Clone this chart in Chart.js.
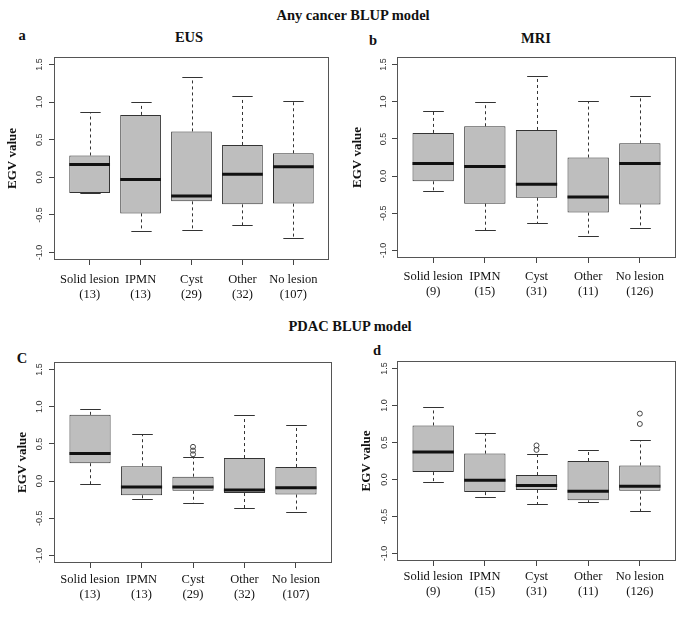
<!DOCTYPE html>
<html>
<head>
<meta charset="utf-8">
<script src="https://cdn.jsdelivr.net/npm/chart.js@4.4.1/dist/chart.umd.min.js"></script>
<style>
html,body{margin:0;padding:0;background:#fff;}
body{width:685px;height:634px;position:relative;overflow:hidden;font-family:"Liberation Serif","Times New Roman",serif;}
.t{position:absolute;font-weight:bold;line-height:1;white-space:nowrap;color:#111;font-size:14.5px;}
.c{transform:translateX(-50%);}
canvas{position:absolute;}
</style>
</head>
<body>
<div class="t c" style="left:353px;top:7.9px;">Any cancer BLUP model</div>
<div class="t c" style="left:22px;top:27.9px;">a</div>
<div class="t c" style="left:189px;top:29.9px;">EUS</div>
<div class="t c" style="left:373px;top:32.9px;">b</div>
<div class="t c" style="left:536px;top:30.9px;">MRI</div>
<div class="t c" style="left:350px;top:318.9px;">PDAC BLUP model</div>
<div class="t c" style="left:22px;top:350.9px;">C</div>
<div class="t c" style="left:377px;top:342.9px;">d</div>
<script>
// ---------- data ----------
const categories = ['Solid lesion', 'IPMN', 'Cyst', 'Other', 'No lesion'];
const countsEUS = [13, 13, 29, 32, 107];
const countsMRI = [9, 15, 31, 11, 126];
const yTicks = [-1.0, -0.5, 0.0, 0.5, 1.0, 1.5];

// a: Any cancer BLUP model, EUS
const aLow  = [-0.21, -0.72, -0.70, -0.64, -0.81];
const aQ1   = [-0.21, -0.48, -0.32, -0.36, -0.35];
const aMed  = [0.17, -0.03, -0.25, 0.04, 0.14];
const aQ3   = [0.29, 0.83, 0.61, 0.43, 0.32];
const aHigh = [0.87, 1.00, 1.34, 1.08, 1.02];
const aOutCat = [];
const aOutVal = [];

// b: Any cancer BLUP model, MRI
const bLow  = [-0.20, -0.72, -0.63, -0.81, -0.70];
const bQ1   = [-0.07, -0.37, -0.29, -0.49, -0.38];
const bMed  = [0.17, 0.13, -0.11, -0.28, 0.17];
const bQ3   = [0.58, 0.67, 0.62, 0.25, 0.44];
const bHigh = [0.87, 1.00, 1.34, 1.01, 1.08];
const bOutCat = [];
const bOutVal = [];

// c: PDAC BLUP model, EUS
const cLow  = [-0.04, -0.24, -0.30, -0.36, -0.42];
const cQ1   = [0.24, -0.19, -0.13, -0.16, -0.18];
const cMed  = [0.37, -0.08, -0.08, -0.12, -0.09];
const cQ3   = [0.89, 0.20, 0.06, 0.31, 0.19];
const cHigh = [0.97, 0.63, 0.33, 0.89, 0.75];
const cOutCat = [3, 3, 3];
const cOutVal = [0.46, 0.41, 0.36];

// d: PDAC BLUP model, MRI
const dLow  = [-0.04, -0.24, -0.33, -0.30, -0.42];
const dQ1   = [0.10, -0.17, -0.14, -0.28, -0.15];
const dMed  = [0.37, -0.01, -0.08, -0.16, -0.09];
const dQ3   = [0.73, 0.35, 0.06, 0.25, 0.19];
const dHigh = [0.98, 0.63, 0.35, 0.40, 0.54];
const dOutCat = [3, 3, 5, 5];
const dOutVal = [0.46, 0.40, 0.89, 0.75];

// ---------- drawing ----------
const boxPlugin = {
  id: 'boxDetails',
  afterDatasetsDraw(chart, args, o) {
    const ctx = chart.ctx, ys = chart.scales.y, area = chart.chartArea;
    const meta = chart.getDatasetMeta(0);
    const line = (x1, y1, x2, y2) => { ctx.beginPath(); ctx.moveTo(x1, y1); ctx.lineTo(x2, y2); ctx.stroke(); };
    ctx.save();
    meta.data.forEach((bar, i) => {
      const cx = Math.round(bar.x) + 0.5;
      const w = bar.width;
      const yHi = Math.round(ys.getPixelForValue(o.high[i])) + 0.5;
      const yLo = Math.round(ys.getPixelForValue(o.low[i])) + 0.5;
      const yQ1 = ys.getPixelForValue(o.q1[i]);
      const yQ3 = ys.getPixelForValue(o.q3[i]);
      const yMed = ys.getPixelForValue(o.med[i]);
      ctx.strokeStyle = '#333';
      ctx.lineWidth = 1;
      ctx.setLineDash([3, 3]);
      if (yHi < yQ3) line(cx, yQ3, cx, yHi);
      if (yLo > yQ1) line(cx, yQ1, cx, yLo);
      ctx.setLineDash([]);
      line(cx - w / 4, yHi, cx + w / 4, yHi);
      line(cx - w / 4, yLo, cx + w / 4, yLo);
      ctx.strokeStyle = '#111';
      ctx.lineWidth = 3;
      line(bar.x - w / 2, yMed, bar.x + w / 2, yMed);
    });
    ctx.strokeStyle = '#555';
    ctx.lineWidth = 1;
    ctx.setLineDash([]);
    const l = Math.round(area.left) + 0.5, t = Math.round(area.top) + 0.5;
    const r = Math.round(area.right) - 0.5, b = Math.round(area.bottom) - 0.5;
    ctx.strokeRect(l, t, r - l, b - t);
    ctx.restore();
  }
};

function makePanel(s) {
  const cv = document.createElement('canvas');
  cv.width = s.w; cv.height = s.h;
  cv.style.left = s.left + 'px'; cv.style.top = s.top + 'px';
  cv.style.width = s.w + 'px'; cv.style.height = s.h + 'px';
  document.body.appendChild(cv);
  const yW = s.area.l - s.left;
  const xH = s.top + s.h - s.area.b;
  new Chart(cv, {
    type: 'bar',
    data: {
      datasets: [
        {
          type: 'bar',
          data: s.q1.map((v, i) => ({ x: i + 1, y: [v, s.q3[i]] })),
          backgroundColor: '#bebebe',
          borderColor: '#333',
          borderWidth: 1,
          borderSkipped: false,
          barPercentage: 0.8,
          categoryPercentage: 1.0,
          order: 2
        },
        {
          type: 'scatter',
          data: s.outCat.map((c, i) => ({ x: c, y: s.outVal[i] })),
          pointStyle: 'circle',
          pointRadius: 2.5,
          pointBorderColor: '#444',
          pointBackgroundColor: 'rgba(0,0,0,0)',
          pointBorderWidth: 1,
          order: 1
        }
      ]
    },
    options: {
      responsive: false,
      animation: false,
      devicePixelRatio: 1,
      events: [],
      layout: { padding: { left: 0, top: s.area.t - s.top, right: s.left + s.w - s.area.r, bottom: 0 } },
      plugins: {
        legend: { display: false },
        tooltip: { enabled: false },
        boxDetails: { low: s.low, q1: s.q1, med: s.med, q3: s.q3, high: s.high }
      },
      scales: {
        x: {
          type: 'linear', min: 0.3, max: 5.7, offset: false,
          grid: { display: true, drawOnChartArea: false, drawTicks: true, tickLength: 5, color: '#444', offset: false },
          border: { display: false },
          afterBuildTicks: sc => { sc.ticks = categories.map((c, i) => ({ value: i + 1 })); },
          afterFit: sc => { sc.height = xH; },
          ticks: {
            autoSkip: false, maxRotation: 0, minRotation: 0, padding: s.xPad, color: '#111',
            font: { family: '"Liberation Serif", "Times New Roman", serif', size: 12.5, lineHeight: 1.2 },
            callback: (v, i) => [categories[i], '(' + s.counts[i] + ')']
          }
        },
        y: {
          type: 'linear', min: -1.1, max: 1.6,
          grid: { display: true, drawOnChartArea: false, drawTicks: true, tickLength: 5, color: '#444' },
          border: { display: false },
          afterBuildTicks: sc => { sc.ticks = yTicks.map(v => ({ value: v })); },
          afterFit: sc => { sc.width = yW; },
          ticks: {
            minRotation: 90, maxRotation: 90, crossAlign: 'center', padding: s.yPad, color: '#333',
            font: { family: '"Liberation Sans", Arial, sans-serif', size: 9 },
            callback: v => v.toFixed(1)
          },
          title: {
            display: true, text: 'EGV value', color: '#111',
            font: { family: '"Liberation Serif", "Times New Roman", serif', size: 13, weight: 'bold', lineHeight: 1.2 },
            padding: { top: s.yTitlePad, bottom: 0 }
          }
        }
      }
    },
    plugins: [boxPlugin]
  });
}

makePanel({ left: 0, top: 40, w: 340, h: 275, area: { l: 54, r: 329, t: 57, b: 260 },
  low: aLow, q1: aQ1, med: aMed, q3: aQ3, high: aHigh, outCat: aOutCat, outVal: aOutVal,
  counts: countsEUS, yPad: 1.25, xPad: 7.5, yTitlePad: 5.2 });
makePanel({ left: 340, top: 40, w: 345, h: 275, area: { l: 397, r: 676, t: 57, b: 258 },
  low: bLow, q1: bQ1, med: bMed, q3: bQ3, high: bHigh, outCat: bOutCat, outVal: bOutVal,
  counts: countsMRI, yPad: 0.25, xPad: 6.5, yTitlePad: 10.2 });
makePanel({ left: 0, top: 330, w: 340, h: 290, area: { l: 54, r: 332, t: 362, b: 563 },
  low: cLow, q1: cQ1, med: cMed, q3: cQ3, high: cHigh, outCat: cOutCat, outVal: cOutVal,
  counts: countsEUS, yPad: 1.25, xPad: 4.5, yTitlePad: 15.2 });
makePanel({ left: 340, top: 330, w: 345, h: 290, area: { l: 397, r: 676, t: 361, b: 561 },
  low: dLow, q1: dQ1, med: dMed, q3: dQ3, high: dHigh, outCat: dOutCat, outVal: dOutVal,
  counts: countsMRI, yPad: -0.75, xPad: 3.5, yTitlePad: 19.2 });
</script>
</body>
</html>
